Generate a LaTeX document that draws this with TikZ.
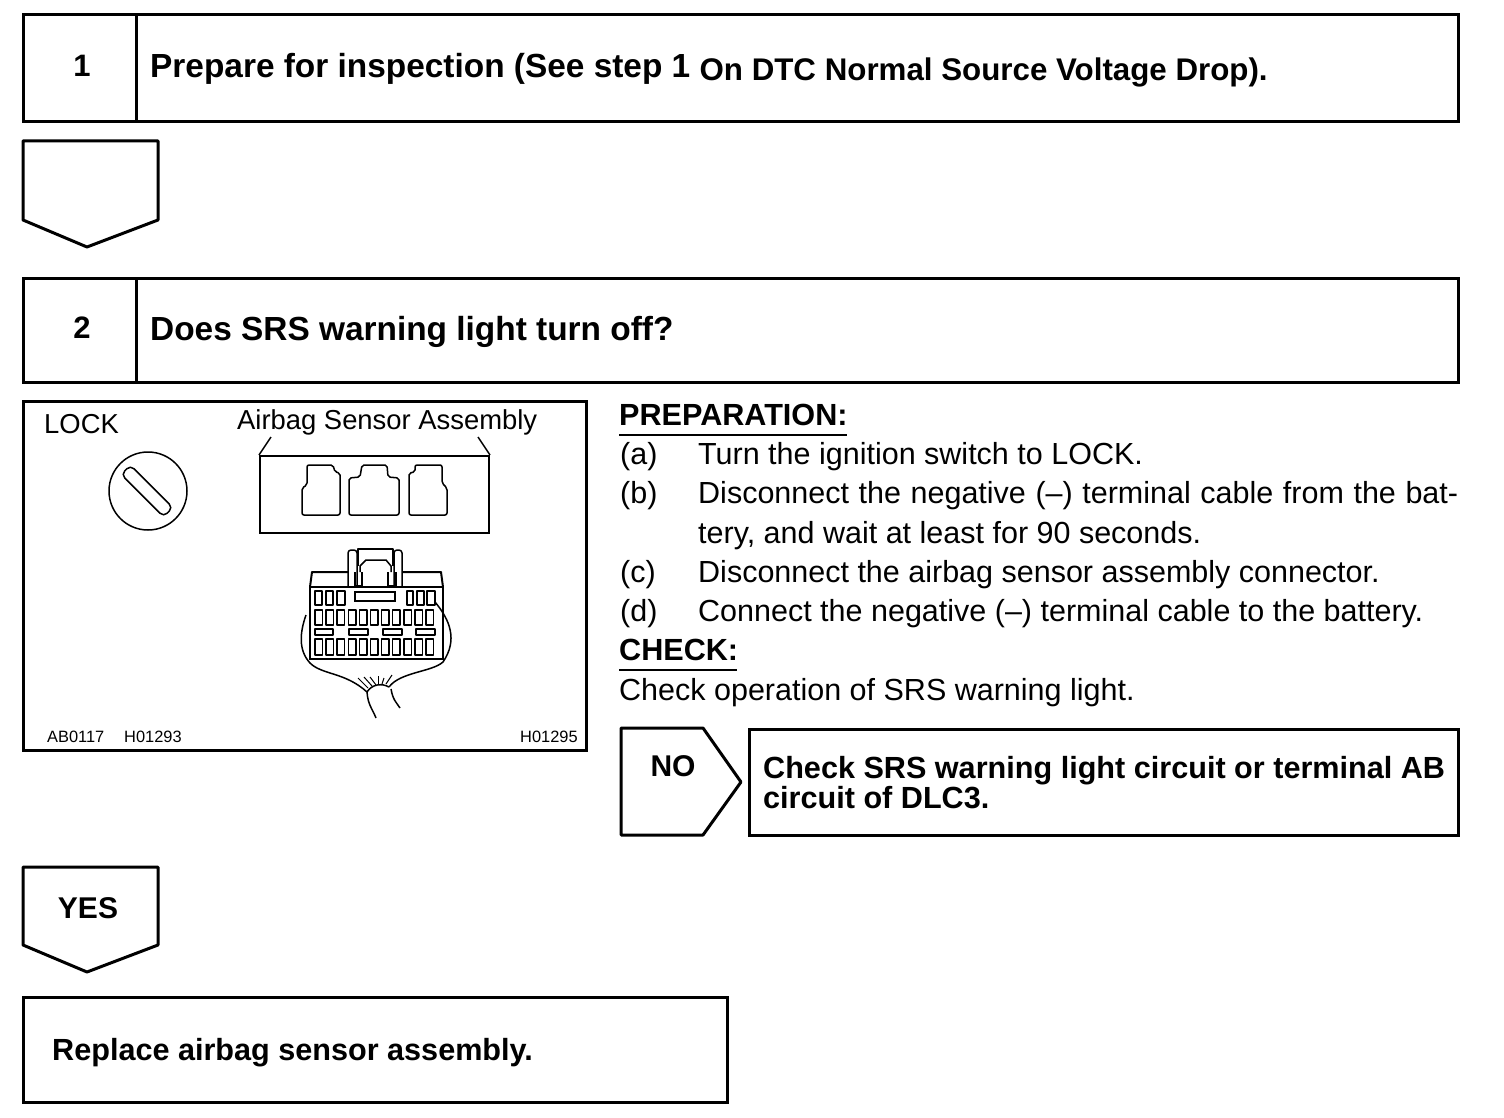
\documentclass[tikz,border=0pt]{standalone}
\usepackage{fontspec}
\setmainfont{Liberation Sans}
\usetikzlibrary{positioning, calc}
\tikzset{
  frame/.style={draw, line width=3pt},
  thin line/.style={draw, line width=1.5pt, line join=round},
  stepnum/.style={font=\fontsize{31}{31}\selectfont\bfseries},
  heading/.style={anchor=base west, inner sep=0pt, font=\fontsize{33.4}{33.4}\selectfont\bfseries},
  subhead/.style={anchor=base west, inner sep=0pt, font=\fontsize{30.6}{30.6}\selectfont\bfseries},
  tagtext/.style={font=\fontsize{30}{30}\selectfont\bfseries},
  body/.style={anchor=base west, inner sep=0pt, font=\fontsize{30.5}{30.5}\selectfont},
  figlabel/.style={anchor=base west, inner sep=0pt, font=\fontsize{27.4}{27.4}\selectfont},
  figcode/.style={anchor=base west, inner sep=0pt, font=\fontsize{16.4}{16.4}\selectfont},
}
\begin{document}
\begin{tikzpicture}[x=1pt, y=-1pt]
  \useasboundingbox (0,0) rectangle (1504,1118);

  \draw[frame] (23,15) rectangle (1458,122); \draw[frame] (136,15)--(136,122);
  \node[stepnum] (numa) at (82,66){1};
  \node[heading] (stepa) at (150,78){Prepare for inspection (See step 1 \raisebox{-3pt}{\fontsize{31.3}{31.3}\selectfont On DTC Normal Source Voltage Drop).}};
  \draw[frame, line join=round] (23,141)--(158,141)--(158,220)--(87,247)--(23,220)--cycle;

  \draw[frame] (23,278) rectangle (1458,382); \draw[frame] (136,278)--(136,382);
  \node[stepnum] (numb) at (82,328){2};
  \node[heading] (stepb) at (150,340){Does SRS warning light turn off?};

  \draw[frame] (23,401) rectangle (586,750);
  \node[figlabel] (locklabel) at (44,433){LOCK};
  \node[figlabel] (airbaglabel) at (237,429){Airbag Sensor Assembly};
  \node[figcode] (codea) at (47,742){AB0117};
  \node[figcode] (codeb) at (124,742){H01293};
  \node[figcode] (codec) at (520,742){H01295};

  \node[circle, draw, line width=1.5pt, minimum size=78pt, inner sep=0pt] (keydial) at (148,491){};
  \node[draw, line width=1.5pt, rounded corners=5pt, rotate=-45, minimum width=60pt, minimum height=13pt, inner sep=0pt] (keyslot) at (147,491){};

  \node[draw, line width=2pt, minimum width=229pt, minimum height=77pt, inner sep=0pt] (sensorbox) at (374.5,494.5){};
  \coordinate (leadl) at (271,437); \coordinate (leadr) at (478,437);
  \draw[thin line] (sensorbox.north west)--(leadl);
  \draw[thin line] (sensorbox.north east)--(leadr);
  \draw[thin line, rounded corners=2pt] (307,465)--(333,465)--(335,472)--(340,473)--(340,515)--(302,515)--(302,488)--(307,485)--cycle;
  \draw[thin line, rounded corners=2pt] (362,465)--(387,465)--(388,477)--(399,478)--(399,515)--(349,515)--(349,478)--(360,477)--cycle;
  \draw[thin line, rounded corners=2pt] (415,465)--(442,465)--(442,483)--(447,488)--(447,515)--(409,515)--(409,473)--(415,472)--cycle;

  \draw[line width=2pt, line join=round] (310,587)--(312,572)--(348,572) (402,572)--(441,572)--(443,587);
  \draw[line width=2.5pt] (310,587) rectangle (443,659);
  \draw[thin line, rounded corners=3pt] (348,586)--(348,550)--(357,550)--(357,586);
  \draw[thin line, rounded corners=3pt] (394,586)--(394,550)--(402,550)--(402,586);
  \draw[thin line] (355,572)--(355,586)--(362,586)--(362,572);
  \draw[thin line] (388,572)--(388,586)--(396,586)--(396,572);
  \draw[thin line] (358,566)--(358,549)--(393,549)--(393,566);
  \draw[thin line] (360,572)--(360,566)--(366,560)--(386,560)--(391,566)--(391,572);
  \foreach \xa/\xb in {315/322, 326/333, 337/345, 407/413, 417/424, 427/435} {
    \draw[thin line] (\xa,591) rectangle (\xb,605);
  }
  \draw[line width=2pt] (355,592) rectangle (395,601);
  \foreach \i in {0,...,10} {
    \draw[thin line] ({315+\i*11.1},610) rectangle ({322.5+\i*11.1},625);
    \draw[thin line] ({315+\i*11.1},639) rectangle ({322.5+\i*11.1},655);
  }
  \foreach \xa/\xb in {315/333, 349/368, 383/402, 416/435} {
    \draw[thin line] (\xa,629) rectangle (\xb,635);
  }
  \draw[thin line] (306,615) .. controls (300,632) and (298,650) .. (310,663) .. controls (322,675) and (345,672) .. (367,692);
  \draw[thin line] (435,602) .. controls (450,620) and (458,640) .. (443,662) .. controls (432,672) and (400,672) .. (389,687);
  \draw[thin line] (367,692) .. controls (372,684) and (382,683) .. (389,687);
  \draw[thin line] (367,692) .. controls (368,705) and (372,708) .. (376,718);
  \draw[thin line] (391,689) .. controls (393,700) and (396,702) .. (400,708);
  \foreach \xa/\ya/\xb/\yb in {358/678/368/688, 364/677/372/686, 370/677/376/685, 378/676/378/684, 384/678/382/684, 392/675/386/684} {
    \draw[line width=1pt] (\xa,\ya)--(\xb,\yb);
  }

  \node[subhead] (prep) at (619,425){PREPARATION:};
  \draw[line width=2pt] (619,435)--(847,435);
  \foreach \tag/\yy/\txt in {(a)/464/{Turn the ignition switch to LOCK.}, (b)/503/{\makebox[760pt][s]{Disconnect the negative (--) terminal cable from the bat-}}, /543/{tery, and wait at least for 90 seconds.}, (c)/582/{Disconnect the airbag sensor assembly connector.}, (d)/621/{Connect the negative (--) terminal cable to the battery.}} {
    \node[body] at (620,\yy){\tag};
    \node[body] at (698,\yy){\txt};
  }
  \node[subhead] (check) at (619,660){CHECK:};
  \draw[line width=2pt] (619,670)--(737,670);
  \node[body] (checktext) at (619,700){Check operation of SRS warning light.};

  \draw[frame, line join=round] (621,728)--(703,728)--(741,782)--(703,835)--(621,835)--cycle;
  \node[tagtext] (notag) at (673,766){NO};
  \draw[frame] (749,729) rectangle (1458,835);
  \node[subhead] (nofix) at (763,778){Check SRS warning light circuit or terminal AB};
  \node[subhead] (nofixb) at (763,808){circuit of DLC3.};

  \draw[frame, line join=round] (23,867)--(158,867)--(158,945)--(87,972)--(23,945)--cycle;
  \node[tagtext] (yestag) at (88,908){YES};
  \draw[frame] (23,997) rectangle (727,1102);
  \node[subhead] (yesfix) at (52,1060){Replace airbag sensor assembly.};
\end{tikzpicture}
\end{document}
